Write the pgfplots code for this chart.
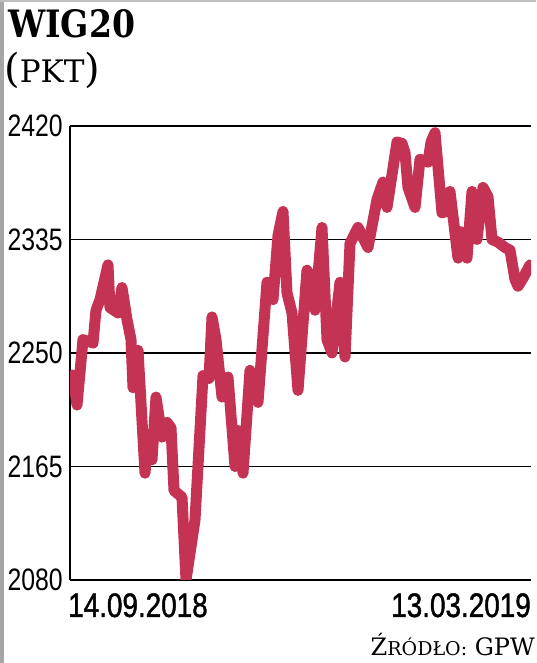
\documentclass[border=0pt]{standalone}
\usepackage{pgfplots}
\pgfplotsset{compat=1.18}
\usepackage{fontspec}
\setmainfont{DejaVu Serif}
\newfontfamily\narrow[FakeStretch=0.8]{Liberation Sans}
\newfontfamily\narrowb[FakeStretch=0.82,FakeBold=1.2]{Liberation Sans}
\definecolor{wigred}{RGB}{196,50,84}
\begin{document}
\begin{tikzpicture}[x=1pt,y=1pt]
\useasboundingbox (0,0) rectangle (536,663);
\fill[black!35] (0,0) rectangle (4,663);
\fill[black!25] (0,661) rectangle (536,663);
\node[anchor=base west, inner sep=0] at (8,625) {\resizebox{127pt}{28pt}{\bfseries WIG20}};
\node[anchor=base west, inner sep=0] at (4,580) {\fontsize{40}{40}\selectfont(\fontsize{31}{31}\selectfont PKT\fontsize{40}{40}\selectfont)};
\node[anchor=base east, inner sep=0] at (535,8) {\fontsize{24}{24}\selectfont Ź\fontsize{19}{19}\selectfont RÓDŁO:\fontsize{24}{24}\selectfont\ GPW};
\node[anchor=base west, inner sep=0, font=\narrowb\fontsize{34}{34}\selectfont] at (68,46) {14.09.2018};
\node[anchor=base east, inner sep=0, font=\narrowb\fontsize{34}{34}\selectfont] at (531,46) {13.03.2019};
\begin{axis}[
  at={(70pt,83pt)}, anchor=south west,
  width=461pt, height=454pt, scale only axis,
  xmin=70, xmax=531, ymin=2080, ymax=2420,
  xtick=\empty,
  ytick={2080,2165,2250,2335,2420},
  ymajorgrids,
  grid style={black, line width=1.2pt},
  axis x line*=bottom, axis y line*=left,
  axis line style={-, black, line width=1.2pt},
  major tick length=0pt,
  scaled ticks=false,
  /pgf/number format/1000 sep={},
  /pgf/number format/assume math mode=true,
  yticklabel style={font=\narrow\fontsize{31}{31}\selectfont, anchor=east, inner sep=0pt, xshift=-7pt},
]
\addplot[wigred, line width=11pt, line join=round, line cap=round] coordinates {
(73,2233.5) (77,2211) (83,2260) (93,2257.5) (96,2282) (100,2290) (108,2316) (110,2284)
(118,2280) (122,2299) (127,2275) (131,2260) (133,2224) (138,2252) (145,2160) (148,2187)
(152,2170) (156,2217) (162,2187) (167,2198) (171,2194) (174,2147) (182,2142) (186,2080)
(195,2125) (203,2233) (209,2231) (212,2277) (216,2260) (222,2217) (228,2232) (235,2165)
(238,2192) (243,2160) (250,2237) (258,2213) (267,2303) (273,2290) (278,2338) (283,2356)
(287,2295) (292,2280) (298,2222) (307,2312) (312,2303) (315,2282) (322,2344) (327,2260)
(332,2250) (340,2303) (345,2247) (350,2332) (358,2344) (368,2329) (377,2365) (383,2378)
(387,2359) (397,2408) (402,2407) (405,2400) (408,2374) (415,2359) (420,2395) (428,2393)
(431,2408) (435,2415) (442,2355) (447,2356) (450,2371) (458,2321) (460,2341) (467,2321)
(472,2371) (477,2335) (483,2374) (488,2367) (492,2335) (498,2333) (505,2329) (510,2327)
(515,2305) (518,2300) (523,2306) (530,2316)
};
\end{axis}
\end{tikzpicture}
\end{document}
